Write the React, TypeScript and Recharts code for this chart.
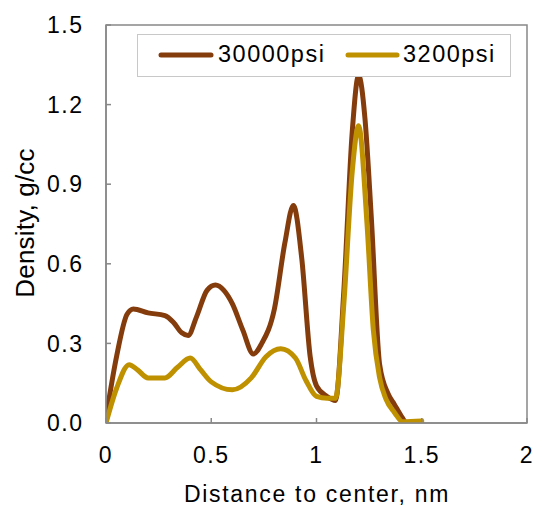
import React from 'react';
import { LineChart, Line, XAxis, YAxis, Legend, Label, ReferenceArea } from 'recharts';

const distance30000 = [0, 0.05, 0.1, 0.13, 0.2, 0.28, 0.32, 0.36, 0.39, 0.43, 0.48, 0.52, 0.56, 0.6, 0.65, 0.7, 0.74, 0.8, 0.85, 0.89, 0.93, 0.97, 1.0, 1.05, 1.09, 1.13, 1.17, 1.2, 1.23, 1.26, 1.3, 1.34, 1.37, 1.4, 1.43, 1.5];
const density30000 = [0.02, 0.25, 0.41, 0.43, 0.415, 0.405, 0.38, 0.34, 0.33, 0.4, 0.5, 0.52, 0.5, 0.45, 0.35, 0.26, 0.3, 0.43, 0.68, 0.82, 0.62, 0.25, 0.14, 0.1, 0.085, 0.5, 1.1, 1.31, 1.15, 0.78, 0.22, 0.11, 0.07, 0.03, 0, 0];

const distance3200 = [0, 0.05, 0.11, 0.15, 0.2, 0.28, 0.34, 0.4, 0.45, 0.5, 0.6, 0.69, 0.76, 0.83, 0.9, 0.95, 1.0, 1.05, 1.09, 1.13, 1.17, 1.2, 1.24, 1.27, 1.3, 1.33, 1.37, 1.41, 1.5];
const density3200 = [0, 0.13, 0.22, 0.2, 0.17, 0.17, 0.21, 0.245, 0.2, 0.155, 0.125, 0.17, 0.25, 0.28, 0.245, 0.16, 0.1, 0.093, 0.093, 0.45, 0.95, 1.12, 0.75, 0.35, 0.17, 0.09, 0.04, 0.005, 0.008];

const xTicks = [0, 0.5, 1, 1.5, 2];
const yTicks = [0, 0.3, 0.6, 0.9, 1.2, 1.5];
const seriesNames = ['30000psi', '3200psi'];
const seriesColors = ['#843C0C', '#BF9000'];
const xTitle = 'Distance to center, nm';
const yTitle = 'Density, g/cc';

const data30000 = distance30000.map((x, i) => ({ x, y: density30000[i] }));
const data3200 = distance3200.map((x, i) => ({ x, y: density3200[i] }));

const FONT = '"Liberation Sans", Arial, sans-serif';
const AXIS = '#888888';

const LegendBox = () => (
  <div style={{ width: 374, height: 43, boxSizing: 'border-box', border: '1px solid #c8c8c8', background: '#fff' }}>
    <svg width={372} height={41} style={{ display: 'block' }}>
      <line x1={23} y1={20} x2={73} y2={20} stroke={seriesColors[0]} strokeWidth={5} strokeLinecap="round" />
      <text x={80} y={27} fontFamily={FONT} fontSize={23.5} letterSpacing={1.5} fill="#000">{seriesNames[0]}</text>
      <line x1={210} y1={20} x2={259} y2={20} stroke={seriesColors[1]} strokeWidth={5} strokeLinecap="round" />
      <text x={265} y={27} fontFamily={FONT} fontSize={23.5} letterSpacing={1.5} fill="#000">{seriesNames[1]}</text>
    </svg>
  </div>
);

const XTitle = () => (
  <text x={317} y={502} textAnchor="middle" fontFamily={FONT} fontSize={23} letterSpacing={1.7} fill="#000">{xTitle}</text>
);

const YTitle = () => (
  <text x={33.5} y={223} textAnchor="middle" transform="rotate(-90 33.5 223)" fontFamily={FONT} fontSize={26} letterSpacing={0.2} fill="#000">{yTitle}</text>
);

export default function App() {
  return (
    <div style={{ position: 'absolute', left: 0, top: 0, width: 540, height: 508, background: '#fff' }}>
      <LineChart width={540} height={508} margin={{ top: 25, right: 13, bottom: 0, left: 0 }}>
        <XAxis
          xAxisId="bottom"
          dataKey="x"
          type="number"
          domain={[0, 2]}
          ticks={xTicks}
          tickFormatter={(v: number) => String(v)}
          height={85}
          stroke={AXIS}
          strokeWidth={1.5}
          tickSize={-5}
          tickMargin={28.7}
          tick={{ fill: '#000', fontSize: 23, fontFamily: FONT, letterSpacing: 1.5 }}
          allowDataOverflow
        >
          <Label content={<XTitle />} />
        </XAxis>
        <YAxis
          yAxisId="left"
          type="number"
          domain={[0, 1.5]}
          ticks={yTicks}
          tickFormatter={(v: number) => v.toFixed(1)}
          width={106}
          stroke={AXIS}
          strokeWidth={1.5}
          tickSize={-5}
          tickMargin={27.5}
          tick={{ fill: '#000', fontSize: 23, fontFamily: FONT, letterSpacing: 1.5 }}
          allowDataOverflow
        >
          <Label content={<YTitle />} />
        </YAxis>
        <ReferenceArea
          xAxisId="bottom"
          yAxisId="left"
          x1={0}
          x2={2}
          y1={0}
          y2={1.5}
          fill="none"
          fillOpacity={0}
          stroke={AXIS}
          strokeWidth={1.5}
          strokeOpacity={1}
          ifOverflow="visible"
        />
        <Legend
          layout="horizontal"
          verticalAlign="middle"
          align="center"
          content={<LegendBox />}
          wrapperStyle={{ left: 137, top: 34, width: 374, height: 43 }}
        />
        <Line
          xAxisId="bottom"
          yAxisId="left"
          data={data30000}
          dataKey="y"
          name={seriesNames[0]}
          type="monotone"
          stroke={seriesColors[0]}
          strokeWidth={5}
          strokeLinecap="round"
          strokeLinejoin="round"
          dot={false}
          activeDot={false}
          isAnimationActive={false}
        />
        <Line
          xAxisId="bottom"
          yAxisId="left"
          data={data3200}
          dataKey="y"
          name={seriesNames[1]}
          type="monotone"
          stroke={seriesColors[1]}
          strokeWidth={5}
          strokeLinecap="round"
          strokeLinejoin="round"
          dot={false}
          activeDot={false}
          isAnimationActive={false}
        />
      </LineChart>
    </div>
  );
}
